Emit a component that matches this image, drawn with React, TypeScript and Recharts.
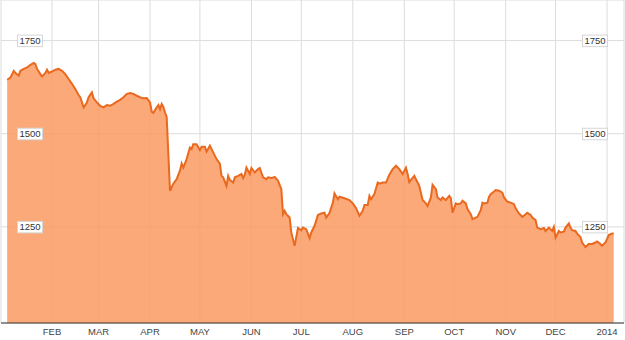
import { Area, AreaChart, CartesianGrid, XAxis, YAxis } from "recharts";

// day of year 2013 (Jan 1 = 0) and closing price
const days = [
  4, 6, 8, 9, 11, 12, 14, 16, 18, 20, 21, 22, 24, 25, 27, 28, 29, 31, 33, 35, 37, 39, 41, 43, 45, 47, 48, 50, 51, 52,
  53, 55, 56, 58, 60, 62, 64, 66, 68, 70, 72, 74, 76, 78, 80, 82, 84, 86, 88, 90, 91, 92, 94, 95, 96, 97, 98, 99, 100,
  102, 104, 106, 108, 109, 110, 112, 114, 115, 116, 118, 120, 121, 123, 124, 126, 128, 130, 132, 133, 134, 136, 137,
  138, 140, 141, 143, 145, 146, 147, 148, 150, 151, 153, 155, 156, 158, 160, 161, 163, 165, 167, 169, 170, 171, 172,
  174, 175, 177, 178, 179, 181, 182, 184, 186, 187, 189, 191, 193, 195, 196, 198, 200, 201, 203, 204, 207, 210, 212,
  214, 216, 218, 219, 221, 222, 223, 225, 227, 228, 230, 232, 234, 236, 238, 240, 242, 244, 245, 246, 247, 249, 250,
  252, 254, 256, 257, 259, 260, 262, 263, 265, 266, 268, 270, 271, 272, 274, 275, 277, 278, 280, 281, 283, 284, 286,
  287, 289, 290, 291, 293, 294, 295, 297, 298, 300, 302, 303, 305, 307, 309, 310, 312, 314, 316, 317, 319, 320, 322,
  323, 325, 327, 328, 330, 332, 333, 334, 336, 337, 339, 340, 342, 343, 344, 346, 347, 349, 350, 352, 354, 356, 358,
  359, 361, 362, 364, 365, 366, 368, 369,
];
const prices = [
  1645, 1651, 1669, 1663, 1656, 1669, 1674, 1678, 1685, 1690, 1687, 1674, 1660, 1654, 1663, 1672, 1663, 1667, 1672,
  1674, 1669, 1660, 1647, 1634, 1620, 1604, 1598, 1571, 1577, 1584, 1598, 1611, 1595, 1584, 1575, 1571, 1577, 1575,
  1580, 1586, 1591, 1598, 1607, 1609, 1607, 1602, 1598, 1595, 1596, 1584, 1559, 1556, 1571, 1577, 1566, 1580, 1572,
  1557, 1545, 1347, 1366, 1378, 1401, 1420, 1409, 1432, 1463, 1459, 1472, 1472, 1456, 1465, 1465, 1452, 1468, 1450,
  1432, 1420, 1387, 1383, 1360, 1387, 1376, 1369, 1383, 1387, 1392, 1381, 1390, 1409, 1392, 1408, 1396, 1405, 1408,
  1383, 1378, 1383, 1381, 1384, 1374, 1351, 1284, 1293, 1284, 1275, 1235, 1199, 1223, 1247, 1241, 1248, 1244, 1220,
  1235, 1253, 1282, 1286, 1288, 1275, 1288, 1315, 1340, 1324, 1331, 1327, 1322, 1313, 1300, 1280, 1293, 1309, 1309,
  1333, 1324, 1338, 1369, 1366, 1369, 1369, 1390, 1405, 1414, 1405, 1392, 1409, 1392, 1370, 1376, 1387, 1378, 1360,
  1322, 1313, 1306, 1329, 1363, 1351, 1329, 1322, 1329, 1322, 1333, 1327, 1288, 1313, 1311, 1313, 1320, 1313, 1298,
  1284, 1271, 1275, 1277, 1295, 1315, 1313, 1315, 1331, 1338, 1345, 1349, 1347, 1342, 1329, 1318, 1315, 1311, 1300,
  1286, 1277, 1284, 1288, 1282, 1275, 1268, 1248, 1244, 1247, 1239, 1248, 1239, 1250, 1221, 1239, 1235, 1237, 1248,
  1259, 1248, 1241, 1239, 1232, 1223, 1208, 1196, 1204, 1204, 1208, 1211, 1204, 1199, 1208, 1217, 1228, 1232, 1232,
];

const monthTicks = [31, 59, 90, 120, 151, 181, 212, 243, 273, 304, 334, 365];
const monthLabels = ["FEB", "MAR", "APR", "MAY", "JUN", "JUL", "AUG", "SEP", "OCT", "NOV", "DEC", "2014"];
const priceTicks = [1250, 1500, 1750];

const data = days.map((d, i) => ({ day: d, price: prices[i] }));

const FONT = "'Liberation Sans', Arial, sans-serif";

function PriceTick(props: any) {
  const { y, payload, side } = props;
  const left = side === "left" ? 17.5 : 582.5;
  return (
    <g>
      <rect x={left} y={y - 5.5} width={25} height={11.5} fill="#fff" stroke="#d6d6d6" />
      <text x={left + 12.5} y={y + 3.5} textAnchor="middle" fontSize={9.5} fontFamily={FONT} fill="#333">
        {payload.value}
      </text>
    </g>
  );
}

export default function App() {
  return (
    <div style={{ position: "absolute", left: 0, top: 0 }}>
      <AreaChart width={625} height={340} data={data} margin={{ top: 0, right: 0, bottom: 0, left: 0 }}>
        <CartesianGrid stroke="#dcdcdc" />
        <XAxis
          dataKey="day"
          type="number"
          domain={[0.3, 375.2]}
          allowDataOverflow
          ticks={monthTicks}
          interval={0}
          tickFormatter={(v) => monthLabels[monthTicks.indexOf(v)]}
          height={17}
          tickLine={false}
          tickSize={0}
          tickMargin={5}
          axisLine={{ stroke: "#333" }}
          tick={{ fontSize: 9.5, fill: "#444", fontFamily: FONT }}
        />
        <Area
          dataKey="price"
          type="linear"
          stroke="#e9691f"
          strokeWidth={2}
          fill="#fa9a62"
          fillOpacity={0.85}
          dot={false}
          activeDot={false}
          isAnimationActive={false}
        />
        <YAxis
          domain={[992, 1859]}
          allowDataOverflow
          ticks={priceTicks}
          width={1}
          axisLine={false}
          tickLine={false}
          tick={(p: any) => <PriceTick {...p} side="left" />}
        />
        <YAxis
          yAxisId="r"
          orientation="right"
          domain={[992, 1859]}
          allowDataOverflow
          ticks={priceTicks}
          width={1}
          axisLine={false}
          tickLine={false}
          tick={(p: any) => <PriceTick {...p} side="right" />}
        />
      </AreaChart>
    </div>
  );
}
